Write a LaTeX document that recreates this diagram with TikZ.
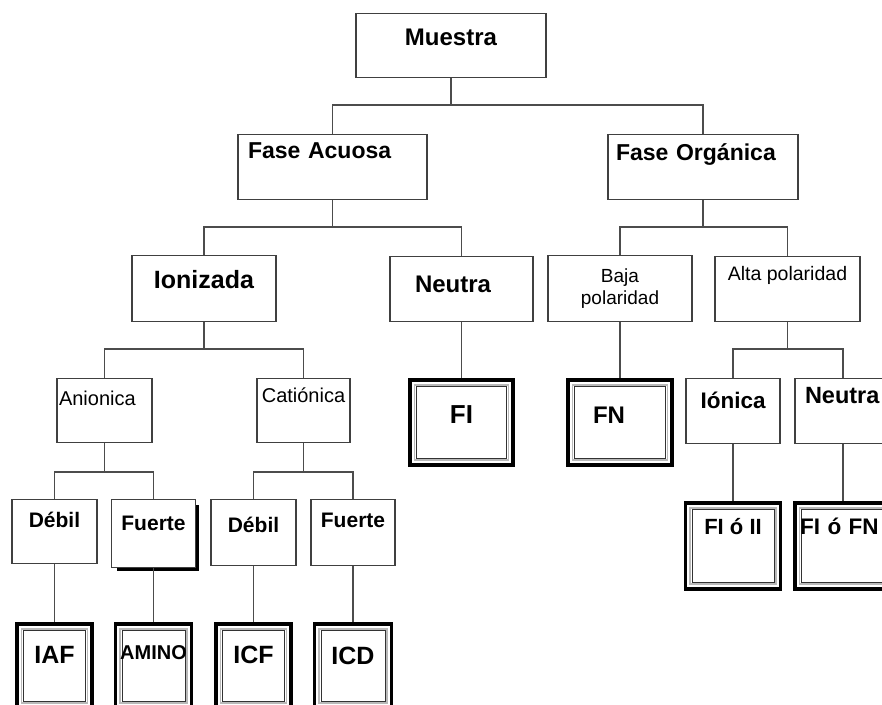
\documentclass[tikz,border=0pt]{standalone}
\usepackage{fontspec}
\setmainfont{Liberation Sans}
\usetikzlibrary{positioning}

\begin{document}
\begin{tikzpicture}[
x=1pt, y=-1pt,
box/.style={
draw=black!75,
line width=1.2pt,
inner sep=0pt,
anchor=north
},
resbox/.style={
box,
draw=black,
line width=3.5pt,
path picture={
\draw[gray!55, line width=1.8pt]
([shift={(4.5pt,-5pt)}]path picture bounding box.north west)
rectangle ([shift={(-4.5pt,4.5pt)}]path picture bounding box.south east);
\draw[black!80, line width=0.6pt]
([shift={(6.5pt,-7pt)}]path picture bounding box.north west)
rectangle ([shift={(-6.5pt,6.5pt)}]path picture bounding box.south east);
}
},
tb/.style 2 args={text height=#1pt, text depth=#2pt},
bt/.style={font=\fontsize{#1}{#1}\selectfont\bfseries},
rt/.style={font=\fontsize{#1}{#1}\selectfont},
link/.style={draw=black!70, line width=1.2pt}
]

\useasboundingbox (0,0) rectangle (882,704);

% raiz y fases
\node[box, bt=24, minimum width=190pt, tb={32}{32}] (muestra) at (451,13) {Muestra};

\node[box, bt=23, text width=169pt, inner xsep=10pt, align=left,
tb={24}{41}] (acuosa) at (332.5,134) {Fase Acuosa};
\node[box, bt=23, text width=174pt, inner xsep=8pt, align=left,
tb={26}{39}] (organica) at (703,134) {Fase Orgánica};

% tercer nivel
\node[box, bt=25, minimum width=144pt, tb={33}{33}] (ionizada) at (204,255) {Ionizada};
\node[box, bt=24, text width=93pt, inner xsep=25pt, align=left,
tb={36}{29}] (neutra) at (461.5,256) {Neutra};
\node[box, font=\fontsize{19}{22}\selectfont, minimum width=144pt,
minimum height=66pt, align=center] (baja) at (620,255) {Baja\\polaridad};
\node[box, rt=19.5, minimum width=145pt, tb={24}{41}] (alta) at (787.5,256) {Alta polaridad};

% cuarto nivel
\node[box, rt=20, text width=91pt, inner xsep=2pt, align=left,
tb={27}{37}] (anionica) at (104.5,378) {Anionica};
\node[box, rt=20, minimum width=93pt, tb={24}{40}] (cationica) at (303.5,378) {Catiónica};
\node[resbox, bt=26, minimum width=103pt, tb={44}{41}] (fi) at (461.5,378) {FI};
\node[resbox, bt=24, text width=54pt, inner xsep=25pt, align=left,
tb={44}{41}] (fn) at (620,378) {FN};
\node[box, bt=22.5, minimum width=94pt, tb={30}{35}] (ionica) at (733,378) {Iónica};
\node[box, bt=23.5, text width=76pt, inner xsep=10pt, align=left,
tb={25}{40}] (neutrab) at (843,378) {Neutra};

% quinto nivel
\node[box, bt=21, minimum width=85pt, tb={28}{36}] (debila) at (54.5,499) {Débil};
\node[box, bt=21, minimum width=84pt, tb={31}{37}] (fuertea) at (153.5,499) {Fuerte};
\node[box, bt=21, minimum width=85pt, tb={33}{33}] (debilb) at (253.5,499) {Débil};
\node[box, bt=21, minimum width=84pt, tb={28}{38}] (fuerteb) at (353,499) {Fuerte};
\node[resbox, bt=22, minimum width=95pt, tb={32}{54}] (fiii) at (733,501) {FI ó II};
\node[resbox, bt=22.5, text width=86pt, inner xsep=5pt, align=left,
tb={32}{54}] (fifn) at (843,501) {FI ó FN};

% hojas
\node[resbox, bt=25, minimum width=75pt, tb={40}{44}] (iaf) at (54.5,622) {IAF};
\node[resbox, bt=20, minimum width=76pt, tb={36}{48}] (amino) at (153.5,622) {AMINO};
\node[resbox, bt=25, minimum width=75pt, tb={40}{44}] (icf) at (253.5,622) {ICF};
\node[resbox, bt=25, minimum width=77pt, tb={41}{43}] (icd) at (353,622) {ICD};

% sombra de Fuerte
\draw[line width=2.6pt]
([shift={(1.5pt,-6pt)}]fuertea.north east)
|- ([shift={(6pt,-1.5pt)}]fuertea.south west);

% conectores
\coordinate (bus0) at (0,105);
\coordinate (bus1) at (0,227);
\coordinate (bus2) at (0,349);
\coordinate (bus3) at (0,472);

\draw[link] (muestra.south) -- (muestra.south |- bus0);
\draw[link] (acuosa.north) |- (bus0 -| organica.north) -- (organica.north);

\draw[link] (acuosa.south) -- (acuosa.south |- bus1);
\draw[link] (ionizada.north) |- (bus1 -| neutra.north) -- (neutra.north);
\draw[link] (organica.south) -- (organica.south |- bus1);
\draw[link] (baja.north) |- (bus1 -| alta.north) -- (alta.north);

\draw[link] (ionizada.south) -- (ionizada.south |- bus2);
\draw[link] (anionica.north) |- (bus2 -| cationica.north) -- (cationica.north);
\draw[link] (neutra.south) -- (fi.north);
\draw[link] (baja.south) -- (fn.north);
\draw[link] (alta.south) -- (alta.south |- bus2);
\draw[link] (ionica.north) |- (bus2 -| neutrab.north) -- (neutrab.north);

\draw[link] (anionica.south) -- (anionica.south |- bus3);
\draw[link] (debila.north) |- (bus3 -| fuertea.north) -- (fuertea.north);
\draw[link] (cationica.south) -- (cationica.south |- bus3);
\draw[link] (debilb.north) |- (bus3 -| fuerteb.north) -- (fuerteb.north);
\draw[link] (ionica.south) -- (fiii.north);
\draw[link] (neutrab.south) -- (fifn.north);

\draw[link] (debila.south) -- (iaf.north);
\draw[link] (fuertea.south) -- (amino.north);
\draw[link] (debilb.south) -- (icf.north);
\draw[link] (fuerteb.south) -- (icd.north);

\end{tikzpicture}
\end{document}
